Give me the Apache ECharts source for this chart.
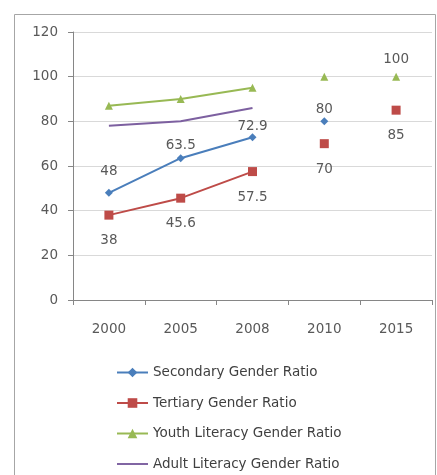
<!DOCTYPE html>
<html><head><meta charset="utf-8">
<script src="https://cdn.jsdelivr.net/npm/echarts@6/dist/echarts.min.js"></script>
<style>html,body{margin:0;padding:0;background:#fff}#c{width:437px;height:475px}</style>
</head><body><div id="c"></div>
<script>
const categories = ['2000', '2005', '2008', '2010', '2015'];
const secondaryLine = [48, 63.5, 72.9, null, null];
const secondary2010 = [null, null, null, 80, null];
const tertiaryLine = [38, 45.6, 57.5, null, null];
const tertiary2010 = [null, null, null, 70, null];
const tertiary2015 = [null, null, null, null, 85];
const youthLine = [87, 90, 95, null, null];
const youth2010 = [null, null, null, 100, null];
const youth2015 = [null, null, null, null, 100];
const adultLine = [78, 80, 86, null, null];
const names = ['Secondary Gender Ratio', 'Tertiary Gender Ratio', 'Youth Literacy Gender Ratio', 'Adult Literacy Gender Ratio'];
const colors = ['#4A7EBB', '#BE4B48', '#98B954', '#7D60A0'];

const font = 'DejaVu Sans, Verdana, sans-serif';
const txt = '#595959';
const fs = 13.5;
const secDist = [10, 2, 0, 1];

function labeled(arr, pos, dist) {
  return arr.map((v, i) => {
    if (v == null) return null;
    const d = Array.isArray(dist) ? dist[i] : dist;
    return { value: v, label: { show: true, position: pos, distance: d, color: txt, fontSize: fs, fontFamily: font } };
  });
}

const sec = { type: 'line', name: names[0], color: colors[0], symbol: 'diamond', symbolSize: 8, lineStyle: { width: 2 } };
const ter = { type: 'line', name: names[1], color: colors[1], symbol: 'rect', symbolSize: 9, lineStyle: { width: 2 } };
const you = { type: 'line', name: names[2], color: colors[2], symbol: 'triangle', symbolSize: 8, lineStyle: { width: 2 } };

const chart = echarts.init(document.getElementById('c'));
chart.setOption({
  animation: false,
  graphic: [{ type: 'rect', shape: { x: 14.5, y: 14.5, width: 421, height: 480 }, style: { fill: 'none', stroke: '#a6a6a6', lineWidth: 1 } }],
  grid: { left: 73, right: 5, top: 32, bottom: 175 },
  legend: {
    data: [names[0], names[1], names[2], { name: names[3], icon: 'path://M0,0H32V2H0Z' }],
    orient: 'vertical', left: 116, top: 365.5, padding: 0, height: 120, itemWidth: 31, itemHeight: 12, itemGap: 16.5,
    textStyle: { color: '#404040', fontSize: fs, fontFamily: font }
  },
  xAxis: {
    type: 'category', data: categories, boundaryGap: true,
    axisLine: { lineStyle: { color: '#868686' } },
    axisTick: { show: true, lineStyle: { color: '#868686' }, length: 5 },
    axisLabel: { color: txt, fontSize: fs, fontFamily: font, margin: 22 }
  },
  yAxis: {
    type: 'value', min: 0, max: 120, interval: 20,
    axisLine: { show: true, lineStyle: { color: '#868686' } },
    axisTick: { show: true, length: 5, lineStyle: { color: '#868686' } },
    axisLabel: { color: txt, fontSize: fs, fontFamily: font, margin: 15 },
    splitLine: { lineStyle: { color: '#d9d9d9' } }
  },
  series: [
    Object.assign({}, sec, { data: labeled(secondaryLine, 'top', secDist) }),
    Object.assign({}, ter, { data: labeled(tertiaryLine, 'bottom', 14) }),
    Object.assign({}, you, { data: youthLine }),
    { name: names[3], type: 'line', data: adultLine, color: colors[3], symbol: 'none', lineStyle: { width: 2 } },
    Object.assign({}, sec, { data: labeled(secondary2010, 'top', secDist) }),
    Object.assign({}, ter, { data: labeled(tertiary2010, 'bottom', 14) }),
    Object.assign({}, ter, { data: labeled(tertiary2015, 'bottom', 14) }),
    Object.assign({}, you, { data: youth2010 }),
    Object.assign({}, you, { data: labeled(youth2015, 'top', 6) })
  ]
});
</script></body></html>
